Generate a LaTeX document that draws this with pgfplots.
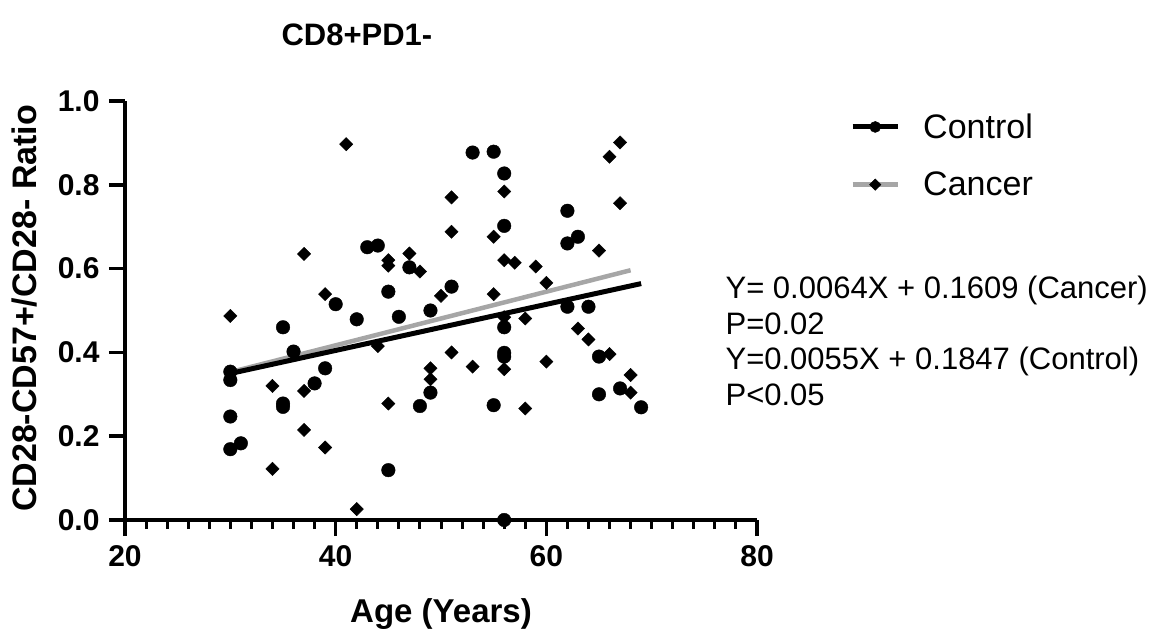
\documentclass[border=0pt]{standalone}
\usepackage{fontspec}
\setmainfont{Liberation Sans}
\usepackage{pgfplots}
\pgfplotsset{compat=1.18}
\definecolor{lgray}{RGB}{166,166,166}
\begin{document}
\begin{tikzpicture}
\useasboundingbox (0,0) rectangle (1156pt,632pt);
\begin{axis}[
  at={(125pt,112pt)}, anchor=south west,
  scale only axis, width=632pt, height=419pt,
  xmin=20, xmax=80, ymin=0, ymax=1,
  axis lines=left,
  axis line style={-, line width=4pt},
  clip=false,
  xtick={20,40,60,80}, ytick={0,0.2,0.4,0.6,0.8,1.0},
  minor x tick num=9,
  tick align=outside,
  major tick length=16pt, minor tick length=9pt,
  major tick style={line width=3.5pt, black},
  minor tick style={line width=3pt, black},
  /pgf/number format/assume math mode=true,
  tick label style={font=\fontsize{30}{30}\selectfont\bfseries},
  xticklabel style={yshift=-6pt},
  yticklabel style={xshift=-6pt, /pgf/number format/.cd, fixed, fixed zerofill, precision=1},
  xlabel={Age (Years)},
  xlabel style={at={(axis description cs:0.5,-0.2458)}, anchor=base, font=\fontsize{33}{33}\selectfont\bfseries},
  ylabel={CD28-CD57+/CD28- Ratio},
  ylabel style={at={(axis description cs:-0.1408,0.505)}, anchor=base, font=\fontsize{34}{34}\selectfont\bfseries},
  title={CD8+PD1-},
  title style={at={(axis description cs:0.367,1.117)}, anchor=base, font=\fontsize{31}{31}\selectfont\bfseries},
  legend image code/.code={
    \draw[#1, mark repeat=2, mark phase=2] plot coordinates {(0pt,0pt) (22.5pt,0pt) (45pt,0pt)};
  },
  legend style={at={(axis description cs:1.1472,0.9745)}, anchor=north west,
    draw=none, fill=none, inner xsep=0pt, inner ysep=0pt,
    font=\fontsize{34}{34}\selectfont, column sep=21pt, row sep=28pt},
  legend cell align=left,
]
% regression lines
\addplot[lgray, line width=4.5pt, forget plot] coordinates {(30,0.3529) (68,0.5961)};
\addplot[black, line width=5pt, forget plot] coordinates {(30,0.3497) (69,0.5642)};
% Control
\addplot[only marks, mark=*, mark size=6.8pt, black, forget plot] coordinates {
(30,0.354)(30,0.334)(30,0.247)(30,0.169)(31,0.183)(35,0.46)(35,0.278)(35,0.27)(36,0.402)(38,0.326)(39,0.362)(40,0.515)(42,0.479)(43,0.651)(44,0.655)(45,0.545)(45,0.119)(46,0.485)(47,0.603)(48,0.272)(49,0.5)(49,0.304)(51,0.557)(53,0.877)(55,0.879)(55,0.274)(56,0.827)(56,0.702)(56,0.46)(56,0.399)(56,0.39)(56,0.0)(62,0.738)(62,0.66)(62,0.509)(63,0.676)(64,0.509)(65,0.39)(65,0.3)(67,0.314)(69,0.269)
};
% Cancer
\addplot[only marks, mark=square*, mark options={rotate=45}, mark size=4.7pt, black, forget plot] coordinates {
(30,0.487)(34,0.32)(34,0.122)(37,0.635)(37,0.308)(37,0.215)(39,0.539)(39,0.173)(41,0.897)(42,0.026)(44,0.415)(45,0.62)(45,0.607)(45,0.278)(47,0.636)(48,0.593)(49,0.362)(49,0.336)(50,0.535)(51,0.770)(51,0.688)(51,0.40)(53,0.366)(55,0.676)(55,0.539)(56,0.784)(56,0.62)(56,0.484)(56,0.36)(57,0.614)(58,0.481)(58,0.266)(59,0.605)(60,0.566)(60,0.378)(63,0.457)(64,0.431)(65,0.643)(66,0.867)(66,0.396)(67,0.901)(67,0.756)(68,0.346)(68,0.304)
};
\addlegendimage{black, line width=5pt, mark=*, mark size=5.5pt, mark options={line width=0.5pt}}
\addlegendentry{Control}
\addlegendimage{lgray, line width=4.5pt, mark=square*, mark size=4pt, mark options={rotate=45, line width=0.5pt, black, fill=black}}
\addlegendentry{Cancer}
\node[anchor=north west, align=left, inner sep=0pt, font=\fontsize{31}{35.5}\selectfont] at (axis description cs:0.950,0.5823)
  {Y= 0.0064X + 0.1609 (Cancer)\\P=0.02\\Y=0.0055X + 0.1847 (Control)\\P<0.05};
\end{axis}
\end{tikzpicture}
\end{document}
